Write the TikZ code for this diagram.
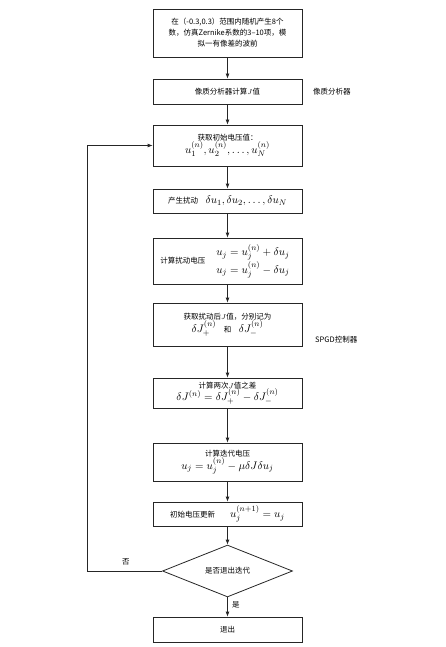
\documentclass[tikz,border=0pt]{standalone}
\usepackage{fontspec}
\usetikzlibrary{arrows.meta,shapes.geometric}
\newfontfamily\cjk{Noto Sans CJK SC}
\begin{document}
\begin{tikzpicture}[x=1pt,y=-1pt,
  box/.style={draw=black!85,line width=0.8pt,minimum width=149pt,inner sep=2pt,align=center,font=\cjk\fontsize{7.5}{11}\selectfont},
  arr/.style={-{Latex[length=5pt,width=4pt]},line width=0.8pt,draw=black!85},
  lab/.style={anchor=west,font=\cjk\fontsize{7.5}{9}\selectfont,inner sep=0pt}]
\useasboundingbox (0,0) rectangle (446,647);
\node[box,minimum height=48pt] (b1) at (227.5,33) {在（-0.3,0.3）范围内随机产生8个\\数，仿真Zernike系数的3–10项，模\\拟一有像差的波前};
\node[box,minimum height=25pt] (b2) at (227.5,91.5) {像质分析器计算$J$值};
\node[box,minimum height=41pt] (b3) at (227.5,145.5) {获取初始电压值：\\[-1pt]{\fontsize{11}{12}\selectfont$u_1^{(n)},u_2^{(n)},\ldots,u_N^{(n)}$}};
\node[box,minimum height=24pt] (b4) at (227.5,201) {产生扰动\quad{\fontsize{11}{12}\selectfont$\delta u_1,\delta u_2,\ldots,\delta u_N$}};
\node[box,minimum height=46pt] (b5) at (227.5,261) {\begin{tabular}{@{}l@{\hspace{6pt}}l@{}}计算扰动电压 & {\fontsize{11}{12}\selectfont$\begin{array}{l} u_j = u_j^{(n)}+\delta u_j\\[2pt] u_j = u_j^{(n)}-\delta u_j\end{array}$}\end{tabular}};
\node[box,minimum height=43pt] (b6) at (227.5,324.5) {获取扰动后$J$值，分别记为\\{\fontsize{11}{12}\selectfont$\delta J_+^{(n)}$}\quad 和\quad{\fontsize{11}{12}\selectfont$\delta J_-^{(n)}$}};
\node[box,minimum height=30pt] (b7) at (227.5,393) {计算两次$J$值之差\\[-1pt]{\fontsize{11}{12}\selectfont$\delta J^{(n)}=\delta J_+^{(n)}-\delta J_-^{(n)}$}};
\node[box,minimum height=38pt] (b8) at (227.5,462) {计算迭代电压\\[-1pt]{\fontsize{11}{12}\selectfont$u_j=u_j^{(n)}-\mu\delta J\delta u_j$}};
\node[box,minimum height=24pt] (b9) at (227.5,514) {初始电压更新\qquad{\fontsize{11}{12}\selectfont$u_j^{(n+1)}=u_j$}};
\node[draw=black!85,line width=0.8pt,diamond,minimum width=130pt,minimum height=45pt,inner sep=0pt,font=\cjk\fontsize{7.5}{9}\selectfont] (dia) at (227.5,571) {是否退出迭代};
\node[box,minimum height=25pt] (ex) at (227.5,629.5) {退出};
\node[lab] (l1) at (313,92) {像质分析器};
\node[lab] (l2) at (315,340) {SPGD控制器};
\node[lab] (no) at (122,562) {否};
\node[lab] (yes) at (232,605) {是};
\coordinate (fb) at (87,571);
\draw[arr] (b1) -- (b2);
\draw[arr] (b2) -- (b3);
\draw[arr] (b3) -- (b4);
\draw[arr] (b4) -- (b5);
\draw[arr] (b5) -- (b6);
\draw[arr] (b6) -- (b7);
\draw[arr] (b7) -- (b8);
\draw[arr] (b8) -- (b9);
\draw[arr] (b9) -- (dia);
\draw[arr] (dia) -- (ex);
\draw[arr] (dia.west) -- (fb) |- (b3.west);
\end{tikzpicture}
\end{document}
